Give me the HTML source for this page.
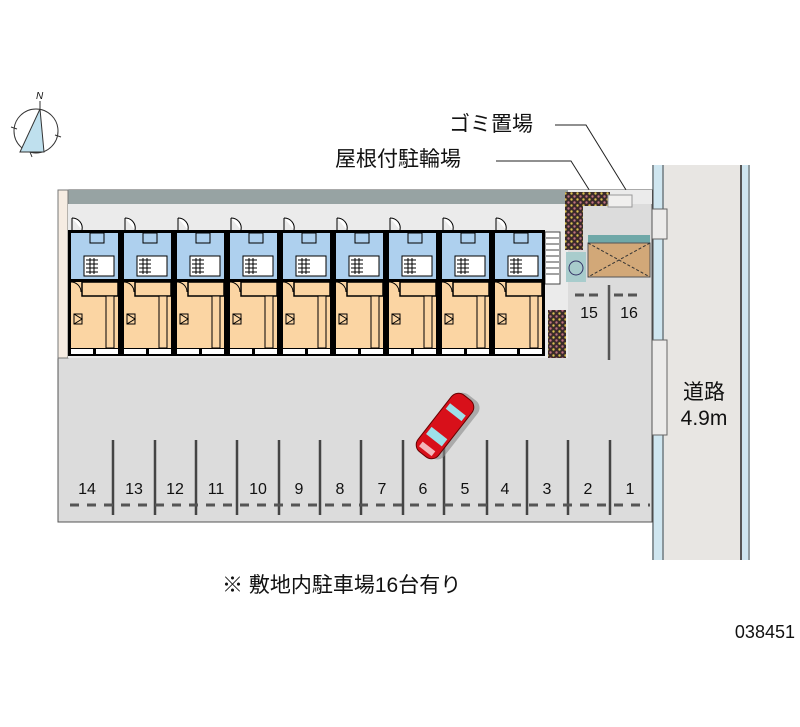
<!DOCTYPE html>
<html><head><meta charset="utf-8"><style>
html,body{margin:0;padding:0;background:#fff;width:800px;height:727px;overflow:hidden}
svg{display:block}
text{font-family:"Liberation Sans","Noto Sans CJK JP",sans-serif;fill:#111}
</style></head><body>
<svg width="800" height="727" viewBox="0 0 800 727" xmlns="http://www.w3.org/2000/svg">
<defs>
<pattern id="brick" width="6" height="6" patternUnits="userSpaceOnUse">
<rect width="6" height="6" fill="#3a2a2a"/><circle cx="1.5" cy="1.5" r="1.2" fill="#d9c050"/><circle cx="4.5" cy="4.5" r="1.2" fill="#c07080"/>
</pattern>
<g id="unit">
<rect x="0" y="0" width="53" height="126" fill="#000"/>
<rect x="3" y="3" width="47" height="46" fill="#aed0ee"/>
<rect x="3" y="52" width="47" height="66" fill="#fbd5a3"/>
<rect x="3" y="119" width="22" height="5" fill="#fff"/>
<rect x="28" y="119" width="22" height="5" fill="#fff"/>
<rect x="14" y="52" width="36" height="14" fill="#fbd5a3" stroke="#000" stroke-width="1.5"/>
<rect x="38" y="66" width="8" height="52" fill="#fbd5a3" stroke="#000" stroke-width="1"/>
<rect x="16" y="26" width="30" height="20" fill="#fff" stroke="#000" stroke-width="1"/>
<path d="M18 30h12M18 34h12M18 38h12M18 42h12M22 28v16M26 28v16" stroke="#000" stroke-width="1"/>
<rect x="6" y="84" width="8" height="10" fill="#fbd5a3" stroke="#000" stroke-width="1"/>
<path d="M6 84l8 5-8 5" stroke="#000" fill="none" stroke-width="1"/>
<path d="M3 52a10 10 0 0 1 10 10" stroke="#000" fill="none" stroke-width="1"/>
<path d="M4 -12 a10 10 0 0 1 10 12 M4 -12v12" stroke="#000" fill="#fff" stroke-width="1"/>
<path d="M22 3 h14 v10 h-14z" fill="none" stroke="#000" stroke-width="1"/>
</g>
</defs>

<!-- compass -->
<circle cx="36" cy="131" r="22" fill="none" stroke="#333" stroke-width="1"/>
<polygon points="40,109 20,152 44,152" fill="#bfe0ee" stroke="#333" stroke-width="1"/>
<line x1="40" y1="109" x2="40" y2="101" stroke="#333"/>
<path d="M11 127l6 2M55 135l6 2M30 152l2 5" stroke="#333"/>
<text x="36" y="99" font-size="10" font-style="italic">N</text>

<!-- labels -->
<text x="449" y="131" font-size="21">ゴミ置場</text>
<text x="335" y="166" font-size="21">屋根付駐輪場</text>
<polyline points="555,125 586,125 631,198" fill="none" stroke="#222" stroke-width="1"/>
<polyline points="496,161 571,161 627,250" fill="none" stroke="#222" stroke-width="1"/>

<!-- road -->
<rect x="664" y="165" width="76" height="395" fill="#e8e6e3"/>
<rect x="652" y="165" width="12" height="395" fill="#cfe6f0"/>
<line x1="653" y1="165" x2="653" y2="560" stroke="#444"/>
<line x1="663" y1="165" x2="663" y2="560" stroke="#444"/>
<rect x="740" y="165" width="10" height="395" fill="#cfe6f0"/>
<line x1="741" y1="165" x2="741" y2="560" stroke="#555" stroke-width="2"/>
<line x1="749" y1="165" x2="749" y2="560" stroke="#555"/>
<rect x="649" y="340" width="18" height="95" fill="#ecebea" stroke="#666"/>
<rect x="650" y="209" width="17" height="30" fill="#ecebea" stroke="#666"/>
<text x="704" y="399" font-size="21" text-anchor="middle">道路</text>
<text x="704" y="425" font-size="21" text-anchor="middle">4.9m</text>

<!-- lot -->
<rect x="58" y="190" width="594" height="332" fill="#dcdcdc" stroke="#555"/>
<rect x="58" y="190" width="510" height="14" fill="#97a3a3"/>
<rect x="58" y="190" width="10" height="168" fill="#f6ece2" stroke="#777"/>
<rect x="68" y="204" width="500" height="154" fill="#ebebeb"/>
<rect x="568" y="190" width="84" height="14" fill="#ebebeb"/>
<rect x="565" y="192" width="45" height="14" fill="url(#brick)"/>
<rect x="565" y="192" width="18" height="58" fill="url(#brick)"/>
<rect x="548" y="310" width="18" height="48" fill="url(#brick)"/>
<rect x="608" y="195" width="24" height="12" fill="#f0efee" stroke="#999"/>
<rect x="566" y="252" width="20" height="30" fill="#a8cccc"/>
<circle cx="576" cy="268" r="7" fill="none" stroke="#336"/>
<rect x="545" y="232" width="15" height="52" fill="#fff" stroke="#444"/>
<path d="M546 238h13M546 244h13M546 250h13M546 256h13M546 262h13M546 268h13M546 274h13" stroke="#444"/>
<rect x="588" y="235" width="62" height="10" fill="#6fa8a8"/>
<rect x="588" y="243" width="62" height="34" fill="#d2a878" stroke="#555"/>
<path d="M588 243l62 34M650 243l-62 34" stroke="#333" stroke-dasharray="3,2"/>

<use href="#unit" x="68" y="230"/>
<use href="#unit" x="121" y="230"/>
<use href="#unit" x="174" y="230"/>
<use href="#unit" x="227" y="230"/>
<use href="#unit" x="280" y="230"/>
<use href="#unit" x="333" y="230"/>
<use href="#unit" x="386" y="230"/>
<use href="#unit" x="439" y="230"/>
<use href="#unit" x="492" y="230"/>

<!-- spots 15,16 -->
<g stroke="#555" stroke-width="3">
<path d="M575 295h9M589 295h9M614 295h9M628 295h9"/>
<line x1="609" y1="285" x2="609" y2="360" stroke-width="2.5"/>
</g>
<text x="589" y="318" font-size="16" text-anchor="middle">15</text>
<text x="629" y="318" font-size="16" text-anchor="middle">16</text>

<!-- parking dividers -->
<g stroke="#444" stroke-width="2.5">
<line x1="113" y1="440" x2="113" y2="515"/><line x1="155" y1="440" x2="155" y2="515"/>
<line x1="196" y1="440" x2="196" y2="515"/><line x1="237" y1="440" x2="237" y2="515"/>
<line x1="279" y1="440" x2="279" y2="515"/><line x1="320" y1="440" x2="320" y2="515"/>
<line x1="361" y1="440" x2="361" y2="515"/><line x1="403" y1="440" x2="403" y2="515"/>
<line x1="444" y1="440" x2="444" y2="515"/><line x1="487" y1="440" x2="487" y2="515"/>
<line x1="527" y1="440" x2="527" y2="515"/><line x1="568" y1="440" x2="568" y2="515"/>
<line x1="610" y1="440" x2="610" y2="515"/>
</g>
<line x1="70" y1="505" x2="650" y2="505" stroke="#555" stroke-width="3" stroke-dasharray="9,8"/>
<g font-size="16" text-anchor="middle">
<text x="87" y="494">14</text><text x="134" y="494">13</text><text x="175" y="494">12</text>
<text x="216" y="494">11</text><text x="258" y="494">10</text><text x="299" y="494">9</text>
<text x="340" y="494">8</text><text x="382" y="494">7</text><text x="423" y="494">6</text>
<text x="465" y="494">5</text><text x="505" y="494">4</text><text x="547" y="494">3</text>
<text x="588" y="494">2</text><text x="630" y="494">1</text>
</g>
<!-- car -->
<g transform="translate(445,426) rotate(-52)">
<rect x="-36" y="-13" width="72" height="28" rx="9" fill="#888" opacity="0.6" transform="translate(3,3)"/>
<rect x="-36" y="-13" width="72" height="26" rx="9" fill="#d8101a" stroke="#600" stroke-width="1"/>
<rect x="-18" y="-10" width="9" height="20" fill="#9ee0e8"/>
<rect x="14" y="-10" width="7" height="20" fill="#9ee0e8"/>
<rect x="-32" y="-8" width="6" height="16" fill="#fff" opacity="0.7"/>
</g>

<text x="222" y="592" font-size="21">※ 敷地内駐車場16台有り</text>
<text x="795" y="638" font-size="18" text-anchor="end">038451</text>
</svg>
</body></html>
